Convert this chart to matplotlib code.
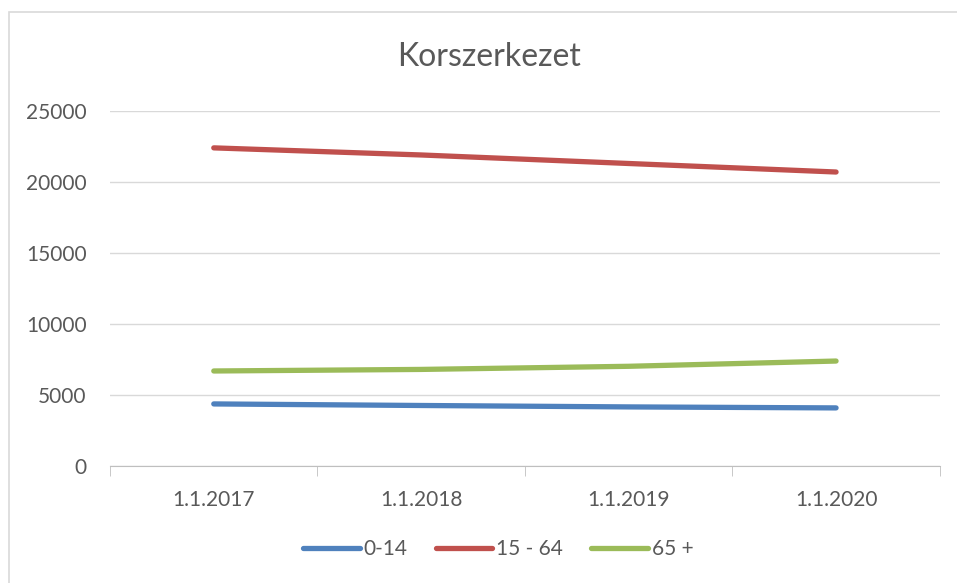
import matplotlib.pyplot as plt
from matplotlib.patches import Rectangle

# Adatok
dates = ['1.1.2017', '1.1.2018', '1.1.2019', '1.1.2020']
age_0_14 = [4370, 4260, 4160, 4090]
age_15_64 = [22400, 21900, 21300, 20700]
age_65 = [6690, 6800, 7020, 7390]

plt.rcParams['font.family'] = ['Lato', 'DejaVu Sans']

fig = plt.figure(figsize=(9.57, 5.83), dpi=100)
ax = fig.add_axes([0.115, 0.2007, 0.867, 0.609])

# keret a diagram körül
fig.patches.append(Rectangle((9 / 957, -0.1), 1.0, 1.079, transform=fig.transFigure,
                             fill=False, edgecolor='#D9D9D9', lw=1.2))

x = range(len(dates))
ax.plot(x, age_0_14, color='#4F81BD', lw=3.8, solid_capstyle='round', label='0-14')
ax.plot(x, age_15_64, color='#C0504D', lw=3.8, solid_capstyle='round', label='15 - 64')
ax.plot(x, age_65, color='#9BBB59', lw=3.8, solid_capstyle='round', label='65 +')

ax.set_xlim(-0.5, 3.5)
ax.set_ylim(0, 25000)
ax.set_yticks(range(0, 25001, 5000))
ax.set_xticks(list(x))
ax.set_xticklabels(dates)
ax.set_xticks([-0.5, 0.5, 1.5, 2.5, 3.5], minor=True)
ax.tick_params(axis='x', which='major', length=0, pad=17, labelsize=15, labelcolor='#595959')
ax.tick_params(axis='x', which='minor', length=7, color='#BFBFBF', direction='out')
ax.tick_params(axis='y', length=0, pad=17, labelsize=15, labelcolor='#595959')

ax.grid(axis='y', color='#D9D9D9', lw=1)
ax.set_axisbelow(True)
for s in ['top', 'right', 'left']:
    ax.spines[s].set_visible(False)
ax.spines['bottom'].set_color('#BFBFBF')

fig.text(489 / 957, 1 - 57 / 583, 'Korszerkezet', fontsize=23, color='#595959',
         ha='center', va='center')
leg = ax.legend(loc='center', bbox_to_anchor=(0.468, -0.234), ncol=3, frameon=False,
                fontsize=15, labelcolor='#595959', handlelength=2.7, handletextpad=0.2,
                columnspacing=1.35)
for line in leg.get_lines():
    line.set_solid_capstyle('round')

fig.savefig('out.png')
